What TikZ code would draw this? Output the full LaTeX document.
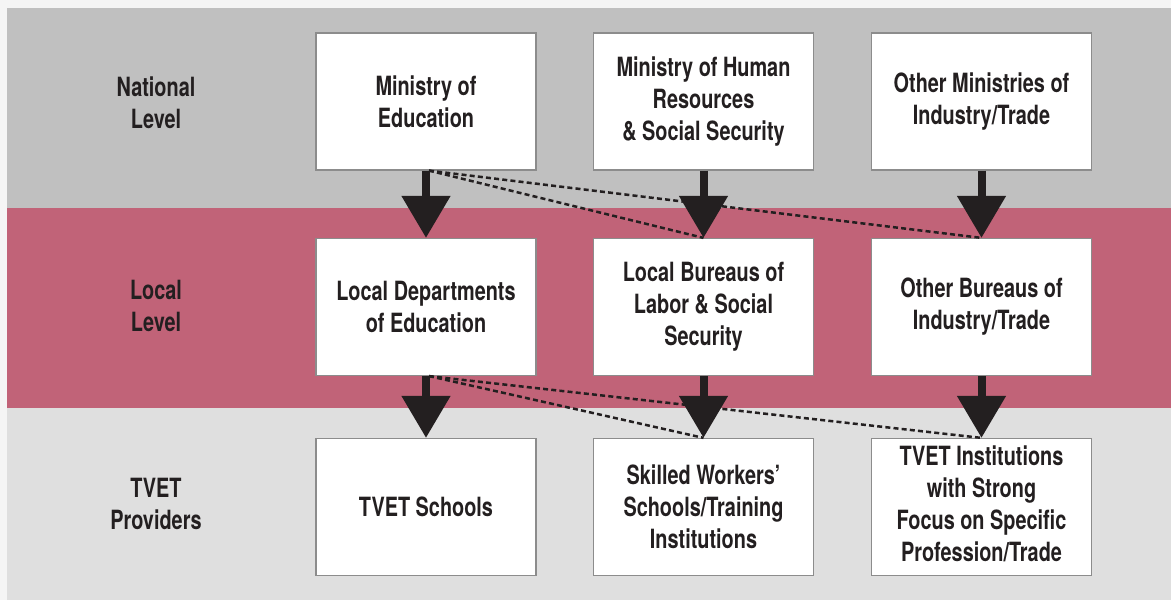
\documentclass[tikz,border=0pt]{standalone}
\usepackage{fontspec}
\setmainfont{TeX Gyre Heros}[FakeStretch=0.75]
\usetikzlibrary{arrows.meta,calc}
\definecolor{outerbg}{HTML}{F5F5F5}
\definecolor{natband}{HTML}{C0C0C0}
\definecolor{locband}{HTML}{C16378}
\definecolor{provband}{HTML}{DFDFDF}
\definecolor{boxline}{HTML}{8C8C8C}
\definecolor{ink}{HTML}{231F20}
\tikzset{
  txt/.style={font=\bfseries\fontsize{26.5}{32}\selectfont, text=ink, align=center, inner sep=0pt},
  orgbox/.style={txt, draw=boxline, line width=1.2pt, fill=white, minimum width=220pt, minimum height=137pt},
  bigarrow/.style={draw=ink, line width=8pt, -{Triangle[width=47pt,length=42pt]}, ink},
  dashlink/.style={draw=ink, line width=2.5pt, dash pattern=on 5pt off 3.2pt}
}
\begin{document}
\begin{tikzpicture}[x=1pt,y=-1pt]
\useasboundingbox (0,0) rectangle (1171,600);
\fill[outerbg] (0,0) rectangle (1171,600);
\fill[natband] (7,8) rectangle (1171,208);
\fill[locband] (7,208) rectangle (1171,408);
\fill[provband] (7,408) rectangle (1171,600);

% level labels
\node[txt] (lnat) at (156,103) {National\\Level};
\node[txt] (lloc) at (156,306) {Local\\Level};
\node[txt] (lprov) at (156,504) {TVET\\Providers};

% national
\node[orgbox] (moe) at (426,101.5) {Ministry of\\Education};
\node[orgbox] (mohr) at (703.5,101.5) {Ministry of Human\\Resources\\\& Social Security};
\node[orgbox] (omi) at (981.5,101.5) {Other Ministries of\\Industry/Trade};

% local
\node[orgbox] (lde) at (426,307) {Local Departments\\of Education};
\node[orgbox] (lbl) at (703.5,307) {Local Bureaus of\\Labor \& Social\\Security};
\node[orgbox] (obi) at (981.5,307) {Other Bureaus of\\Industry/Trade};

% providers
\node[orgbox] (tvs) at (426,507) {TVET Schools};
\node[orgbox] (sws) at (703.5,507) {Skilled Workers’\\Schools/Training\\Institutions};
\node[orgbox, text depth=6pt] (tvi) at (981.5,507) {TVET Institutions\\with Strong\\Focus on Specific\\Profession/Trade};

% dashed links
\coordinate (d1) at ($(moe.south)+(3,0)$);
\coordinate (d2) at ($(lde.south)+(3,0)$);
\draw[dashlink] (d1) -- (lbl.north);
\draw[dashlink] (d1) -- (obi.north);
\draw[dashlink] (d2) -- (sws.north);
\draw[dashlink] (d2) -- (tvi.north);

% arrows
\draw[bigarrow] (moe.south) -- (lde.north);
\draw[bigarrow] (mohr.south) -- (lbl.north);
\draw[bigarrow] (omi.south) -- (obi.north);
\draw[bigarrow] (lde.south) -- (tvs.north);
\draw[bigarrow] (lbl.south) -- (sws.north);
\draw[bigarrow] (obi.south) -- (tvi.north);
\end{tikzpicture}
\end{document}
